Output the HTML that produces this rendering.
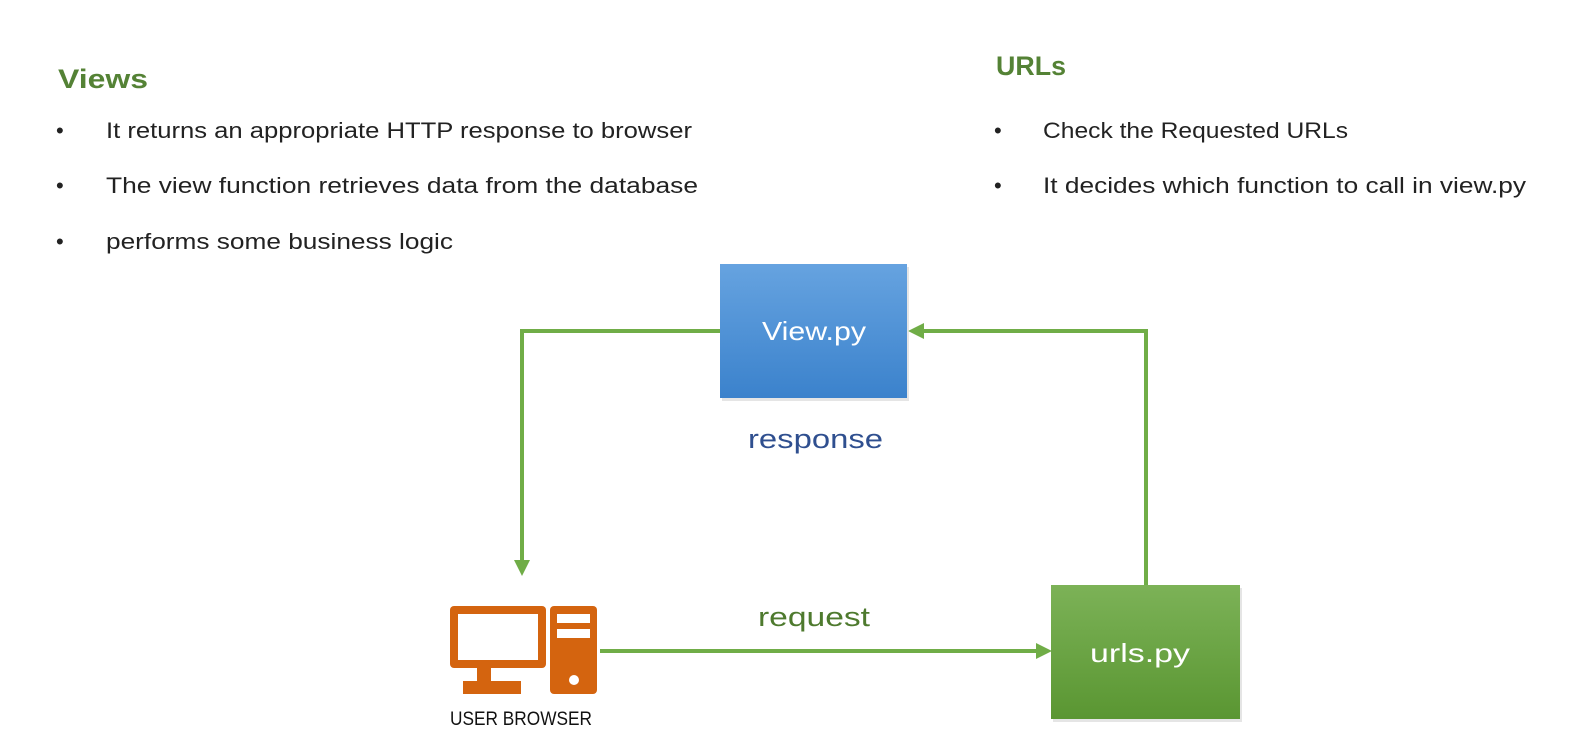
<!DOCTYPE html>
<html><head><style>
html,body{margin:0;padding:0;background:#fff;}
svg{display:block;font-family:"Liberation Sans",sans-serif;}
</style></head><body>
<svg width="1574" height="738" viewBox="0 0 1574 738" xmlns="http://www.w3.org/2000/svg">
<defs>
<linearGradient id="gb" x1="0" y1="0" x2="0" y2="1"><stop offset="0" stop-color="#66a3e0"/><stop offset="1" stop-color="#3b82cc"/></linearGradient>
<linearGradient id="gg" x1="0" y1="0" x2="0" y2="1"><stop offset="0" stop-color="#7cb257"/><stop offset="1" stop-color="#5a9632"/></linearGradient>
</defs>
<text x="58" y="88" font-size="27" font-weight="bold" fill="#548235" textLength="90" lengthAdjust="spacingAndGlyphs">Views</text>
<g font-size="22" fill="#222">
<text x="56" y="138">•</text><text x="106" y="138" textLength="586" lengthAdjust="spacingAndGlyphs">It returns an appropriate HTTP response to browser</text>
<text x="56" y="193">•</text><text x="106" y="193" textLength="592" lengthAdjust="spacingAndGlyphs">The view function retrieves data from the database</text>
<text x="56" y="249">•</text><text x="106" y="249" textLength="347" lengthAdjust="spacingAndGlyphs">performs some business logic</text>
</g>
<text x="996" y="75" font-size="27" font-weight="bold" fill="#548235" textLength="70" lengthAdjust="spacingAndGlyphs">URLs</text>
<g font-size="22" fill="#222">
<text x="994" y="138">•</text><text x="1043" y="138" textLength="305" lengthAdjust="spacingAndGlyphs">Check the Requested URLs</text>
<text x="994" y="193">•</text><text x="1043" y="193" textLength="483" lengthAdjust="spacingAndGlyphs">It decides which function to call in view.py</text>
</g>
<g stroke="#70ad47" stroke-width="4" fill="none">
<polyline points="720,331 522,331 522,562"/>
<polyline points="1146,585 1146,331 922,331"/>
<line x1="600" y1="651" x2="1038" y2="651"/>
</g>
<g fill="#70ad47">
<polygon points="514,560 530,560 522,576"/>
<polygon points="908,331 924,323 924,339"/>
<polygon points="1052,651 1036,643 1036,659"/>
</g>
<rect x="722" y="267" width="187" height="134" fill="#ccc" opacity="0.5"/>
<rect x="720" y="264" width="187" height="134" fill="url(#gb)"/>
<text x="762" y="340" font-size="26" fill="#fff" textLength="104" lengthAdjust="spacingAndGlyphs">View.py</text>
<text x="748" y="448" font-size="27" fill="#2f4f8f" textLength="135" lengthAdjust="spacingAndGlyphs">response</text>
<rect x="1053" y="588" width="189" height="134" fill="#ccc" opacity="0.5"/>
<rect x="1051" y="585" width="189" height="134" fill="url(#gg)"/>
<text x="1090" y="662" font-size="26" fill="#fff" textLength="100" lengthAdjust="spacingAndGlyphs">urls.py</text>
<text x="758" y="626" font-size="27" fill="#4e7a2e" textLength="112" lengthAdjust="spacingAndGlyphs">request</text>
<g fill="#d4640f">
<rect x="450" y="606" width="96" height="62" rx="4"/>
<rect x="477" y="668" width="14" height="14"/>
<rect x="463" y="681" width="58" height="13"/>
<rect x="550" y="606" width="47" height="88" rx="4"/>
</g>
<rect x="458" y="614" width="80" height="46" fill="#fff"/>
<rect x="557" y="614" width="33" height="9" fill="#fff"/>
<rect x="557" y="629" width="33" height="9" fill="#fff"/>
<circle cx="574" cy="680" r="5" fill="#fff"/>
<text x="450" y="725" font-size="19" fill="#111" textLength="142" lengthAdjust="spacingAndGlyphs">USER BROWSER</text>
</svg>
</body></html>
